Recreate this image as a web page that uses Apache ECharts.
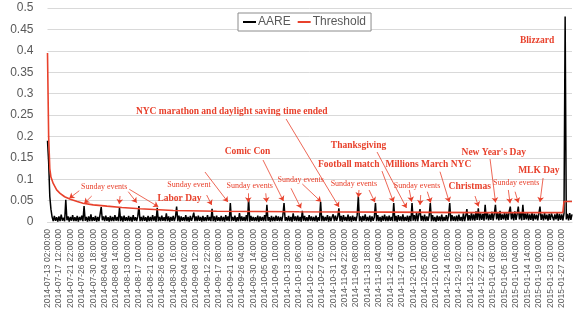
<!DOCTYPE html>
<html>
<head>
<meta charset="utf-8">
<script src="https://cdn.jsdelivr.net/npm/echarts@6.0.0/dist/echarts.min.js"></script>
<style>
  html, body { margin: 0; padding: 0; background: #fff; }
  #chart { width: 573px; height: 314px; }
</style>
</head>
<body>
<div id="chart"></div>
<script>
// tick labels, one every 10 points
var timeLabels = ['2014-07-13 02:00:00','2014-07-17 12:00:00','2014-07-21 22:00:00','2014-07-26 08:00:00','2014-07-30 18:00:00',
  '2014-08-04 04:00:00','2014-08-08 14:00:00','2014-08-13 00:00:00','2014-08-17 10:00:00','2014-08-21 20:00:00',
  '2014-08-26 06:00:00','2014-08-30 16:00:00','2014-09-04 02:00:00','2014-09-08 12:00:00','2014-09-12 22:00:00',
  '2014-09-17 08:00:00','2014-09-21 18:00:00','2014-09-26 04:00:00','2014-09-30 14:00:00','2014-10-05 00:00:00',
  '2014-10-09 10:00:00','2014-10-13 20:00:00','2014-10-18 06:00:00','2014-10-22 16:00:00','2014-10-27 02:00:00',
  '2014-10-31 12:00:00','2014-11-04 22:00:00','2014-11-09 08:00:00','2014-11-13 18:00:00','2014-11-18 04:00:00',
  '2014-11-22 14:00:00','2014-11-27 00:00:00','2014-12-01 10:00:00','2014-12-05 20:00:00','2014-12-10 06:00:00',
  '2014-12-14 16:00:00','2014-12-19 02:00:00','2014-12-23 12:00:00','2014-12-27 22:00:00','2015-01-01 08:00:00',
  '2015-01-05 18:00:00','2015-01-10 04:00:00','2015-01-14 14:00:00','2015-01-19 00:00:00','2015-01-23 10:00:00',
  '2015-01-27 20:00:00'];
var perLabel = 10;

// AARE values (460 points)
var aare = [
  0.19,0.14,0.06,0.03,0.012,0.002,0.014,0.003,0.011,0.001,
  0.013,0.002,0.017,0.003,0.01,0.002,0.052,0.004,0.013,0.001,
  0.012,0.003,0.016,0.002,0.011,0.002,0.014,0.001,0.012,0.004,
  0.015,0.002,0.037,0.003,0.012,0.001,0.013,0.002,0.018,0.002,
  0.011,0.003,0.014,0.001,0.012,0.002,0.018,0.035,0.004,0.013,
  0.002,0.015,0.003,0.011,0.001,0.014,0.002,0.012,0.002,0.016,
  0.003,0.012,0.002,0.033,0.002,0.013,0.001,0.015,0.003,0.011,
  0.002,0.014,0.002,0.012,0.001,0.016,0.003,0.011,0.002,0.013,
  0.037,0.002,0.012,0.002,0.015,0.003,0.011,0.001,0.014,0.002,
  0.012,0.002,0.016,0.003,0.013,0.001,0.033,0.002,0.012,0.002,
  0.015,0.003,0.011,0.002,0.02,0.002,0.013,0.001,0.012,0.003,
  0.014,0.002,0.012,0.036,0.002,0.015,0.001,0.013,0.003,0.011,
  0.002,0.016,0.002,0.012,0.001,0.014,0.003,0.011,0.022,0.002,
  0.013,0.002,0.015,0.003,0.012,0.001,0.014,0.002,0.011,0.002,
  0.016,0.003,0.012,0.002,0.031,0.002,0.013,0.001,0.015,0.003,
  0.011,0.002,0.014,0.002,0.012,0.001,0.016,0.003,0.013,0.002,
  0.044,0.002,0.012,0.003,0.015,0.001,0.011,0.002,0.021,0.002,
  0.013,0.003,0.012,0.002,0.016,0.002,0.054,0.001,0.014,0.003,
  0.012,0.002,0.011,0.002,0.015,0.001,0.013,0.003,0.012,0.002,
  0.016,0.002,0.04,0.003,0.011,0.001,0.014,0.002,0.012,0.002,
  0.015,0.003,0.013,0.002,0.012,0.002,0.016,0.044,0.003,0.011,
  0.002,0.014,0.002,0.012,0.001,0.02,0.003,0.013,0.002,0.015,
  0.002,0.012,0.001,0.026,0.003,0.014,0.002,0.011,0.002,0.016,
  0.003,0.013,0.002,0.012,0.002,0.015,0.001,0.011,0.003,0.047,
  0.002,0.014,0.002,0.012,0.003,0.016,0.001,0.013,0.002,0.011,
  0.018,0.002,0.015,0.003,0.012,0.032,0.002,0.014,0.001,0.016,
  0.003,0.012,0.002,0.017,0.002,0.013,0.001,0.015,0.003,0.012,
  0.002,0.016,0.06,0.002,0.013,0.001,0.014,0.003,0.018,0.002,
  0.012,0.002,0.015,0.001,0.013,0.003,0.011,0.044,0.002,0.016,
  0.002,0.012,0.001,0.014,0.003,0.017,0.002,0.013,0.002,0.015,
  0.003,0.012,0.002,0.044,0.002,0.014,0.001,0.016,0.003,0.013,
  0.002,0.018,0.002,0.012,0.003,0.015,0.001,0.014,0.002,0.044,
  0.003,0.016,0.002,0.022,0.002,0.018,0.03,0.003,0.014,0.002,
  0.017,0.002,0.013,0.003,0.015,0.044,0.002,0.016,0.002,0.012,
  0.001,0.015,0.003,0.013,0.002,0.017,0.002,0.012,0.003,0.016,
  0.002,0.014,0.044,0.002,0.016,0.003,0.013,0.002,0.015,0.002,
  0.017,0.003,0.012,0.002,0.02,0.002,0.014,0.03,0.003,0.016,
  0.003,0.022,0.004,0.018,0.003,0.025,0.005,0.032,0.004,0.02,
  0.005,0.019,0.003,0.04,0.006,0.022,0.004,0.018,0.005,0.024,
  0.004,0.019,0.04,0.006,0.021,0.004,0.026,0.005,0.018,0.006,
  0.022,0.004,0.02,0.005,0.024,0.036,0.006,0.021,0.004,0.025,
  0.005,0.019,0.036,0.006,0.023,0.004,0.04,0.005,0.02,0.006,
  0.022,0.004,0.018,0.005,0.021,0.003,0.019,0.006,0.017,0.004,
  0.02,0.036,0.005,0.018,0.004,0.021,0.006,0.017,0.003,0.019,
  0.005,0.02,0.022,0.004,0.018,0.006,0.021,0.003,0.019,0.005,
  0.018,0.004,0.02,0.48,0.006,0.019,0.004,0.021,0.005,0.018
];

// threshold curve: point index and value
var thrIdx = [0, 1, 2, 3, 5, 8, 11, 15, 20, 26, 31, 40, 52, 65, 81, 110, 148, 220, 300, 380, 451, 452, 459];
var thrVal = [0.395, 0.2, 0.125, 0.105, 0.09, 0.075, 0.067, 0.059, 0.053, 0.048, 0.044, 0.04, 0.037, 0.034,
  0.031, 0.027, 0.025, 0.024, 0.023, 0.022, 0.022, 0.048, 0.048];

var red = '#e8412c';

// annotations: text, point index, value, bold
var notes = [
  ['Blizzard', 428.4, 0.423, true],
  ['NYC marathon and daylight saving time ended', 161.2, 0.259, true],
  ['Comic Con', 175, 0.164, true],
  ['Thanksgiving', 272.2, 0.178, true],
  ['Football match', 263.6, 0.135, true],
  ['Millions March NYC', 333.3, 0.135, true],
  ['Christmas', 369.5, 0.0825, true],
  ["New Year's Day", 390.5, 0.162, true],
  ['MLK Day', 430, 0.12, true],
  ['Labor Day', 115.5, 0.054, true],
  ['Sunday event', 123.8, 0.086, false],
  ['Sunday events', 49.6, 0.081, false],
  ['Sunday events', 177, 0.084, false],
  ['Sunday events', 221.6, 0.098, false],
  ['Sunday events', 268.1, 0.09, false],
  ['Sunday events', 323.4, 0.085, false],
  ['Sunday events', 410.2, 0.092, false]
];

// arrows: from (index, value) to (index, value)
var arrows = [
  [208.8, 0.2406, 255.1, 0.035],
  [188.6, 0.1448, 206.5, 0.049],
  [288.4, 0.1635, 314.2, 0.0327],
  [292.7, 0.119, 302.8, 0.0467],
  [343.5, 0.1175, 351.6, 0.0467],
  [374.1, 0.0607, 377.2, 0.0362],
  [387.3, 0.147, 392.1, 0.0456],
  [433.7, 0.1028, 431, 0.0467],
  [139.3, 0.063, 143.7, 0.0397],
  [137.8, 0.1168, 157.9, 0.0467],
  [27.8, 0.0731, 19.1, 0.0554],
  [38.7, 0.0607, 32.2, 0.0437],
  [63.5, 0.0607, 62.8, 0.042],
  [70.7, 0.0708, 78.1, 0.0451],
  [71.6, 0.0764, 97, 0.0357],
  [175.7, 0.067, 175.7, 0.046],
  [191, 0.067, 191.8, 0.046],
  [213.1, 0.0787, 221.9, 0.032],
  [223, 0.0888, 239.4, 0.0474],
  [272.6, 0.0748, 272, 0.0577],
  [281.4, 0.0748, 286.6, 0.046],
  [316.6, 0.0748, 318.7, 0.0474],
  [326.6, 0.063, 326, 0.0397],
  [332.4, 0.0708, 335.4, 0.0451],
  [403.3, 0.0748, 404.8, 0.0437],
  [409.2, 0.0708, 412, 0.0451]
];

var chart = echarts.init(document.getElementById('chart'));

var option = {
  animation: false,
  backgroundColor: '#fff',
  grid: { left: 47.5, right: 1, top: 8, bottom: 92 },
  legend: {
    data: ['AARE', 'Threshold'],
    left: 238, top: 13,
    padding: [3, 5],
    itemGap: 7,
    itemWidth: 13, itemHeight: 2,
    icon: 'rect',
    backgroundColor: '#fff',
    borderColor: '#8c8c8c', borderWidth: 1, borderRadius: 0,
    textStyle: { fontFamily: 'Liberation Sans', fontSize: 12, color: '#595959', padding: [0, 0, 0, -3] }
  },
  xAxis: {
    type: 'value',
    min: 0, max: aare.length - 1, interval: perLabel,
    splitLine: { show: false },
    axisTick: { show: false },
    axisLine: { lineStyle: { color: '#d9d9d9' } },
    axisLabel: {
      rotate: 90, margin: 7,
      fontFamily: 'Liberation Sans', fontSize: 8.5, color: '#595959',
      showMaxLabel: false,
      formatter: function (v) {
        return v % perLabel === 0 && timeLabels[v / perLabel] ? timeLabels[v / perLabel] : '';
      }
    }
  },
  yAxis: {
    type: 'value', min: 0, max: 0.5, interval: 0.05,
    axisLine: { show: false },
    axisTick: { show: false },
    splitLine: { lineStyle: { color: '#d9d9d9', width: 1 } },
    axisLabel: { margin: 14, fontFamily: 'Liberation Sans', fontSize: 12, color: '#595959' }
  },
  series: [
    {
      name: 'AARE', type: 'line',
      data: aare.map(function (v, i) { return [i, v]; }),
      showSymbol: false, symbol: 'none',
      color: '#000',
      lineStyle: { color: '#000', width: 1.5 },
      z: 2
    },
    {
      name: 'Threshold', type: 'line',
      data: thrIdx.map(function (x, k) { return [x, thrVal[k]]; }),
      showSymbol: false, symbol: 'none',
      color: red,
      lineStyle: { color: red, width: 1.6 },
      z: 3,
      markLine: {
        silent: true,
        symbol: ['none', 'arrow'],
        symbolSize: 5,
        label: { show: false },
        lineStyle: { color: red, width: 0.8, type: 'solid' },
        emphasis: { disabled: true },
        data: arrows.map(function (a) {
          return [{ coord: [a[0], a[1]] }, { coord: [a[2], a[3]] }];
        })
      },
      markPoint: {
        silent: true,
        symbol: 'rect', symbolSize: 1,
        itemStyle: { color: 'rgba(0,0,0,0)' },
        label: {
          show: true, position: 'inside',
          fontFamily: 'Liberation Serif', color: red
        },
        data: notes.map(function (n) {
          return {
            coord: [n[1], n[2]],
            value: n[0],
            label: {
              formatter: n[0],
              fontWeight: n[3] ? 'bold' : 'normal',
              fontSize: n[3] ? 9.5 : 8
            }
          };
        })
      }
    }
  ]
};

chart.setOption(option);
</script>
</body>
</html>
